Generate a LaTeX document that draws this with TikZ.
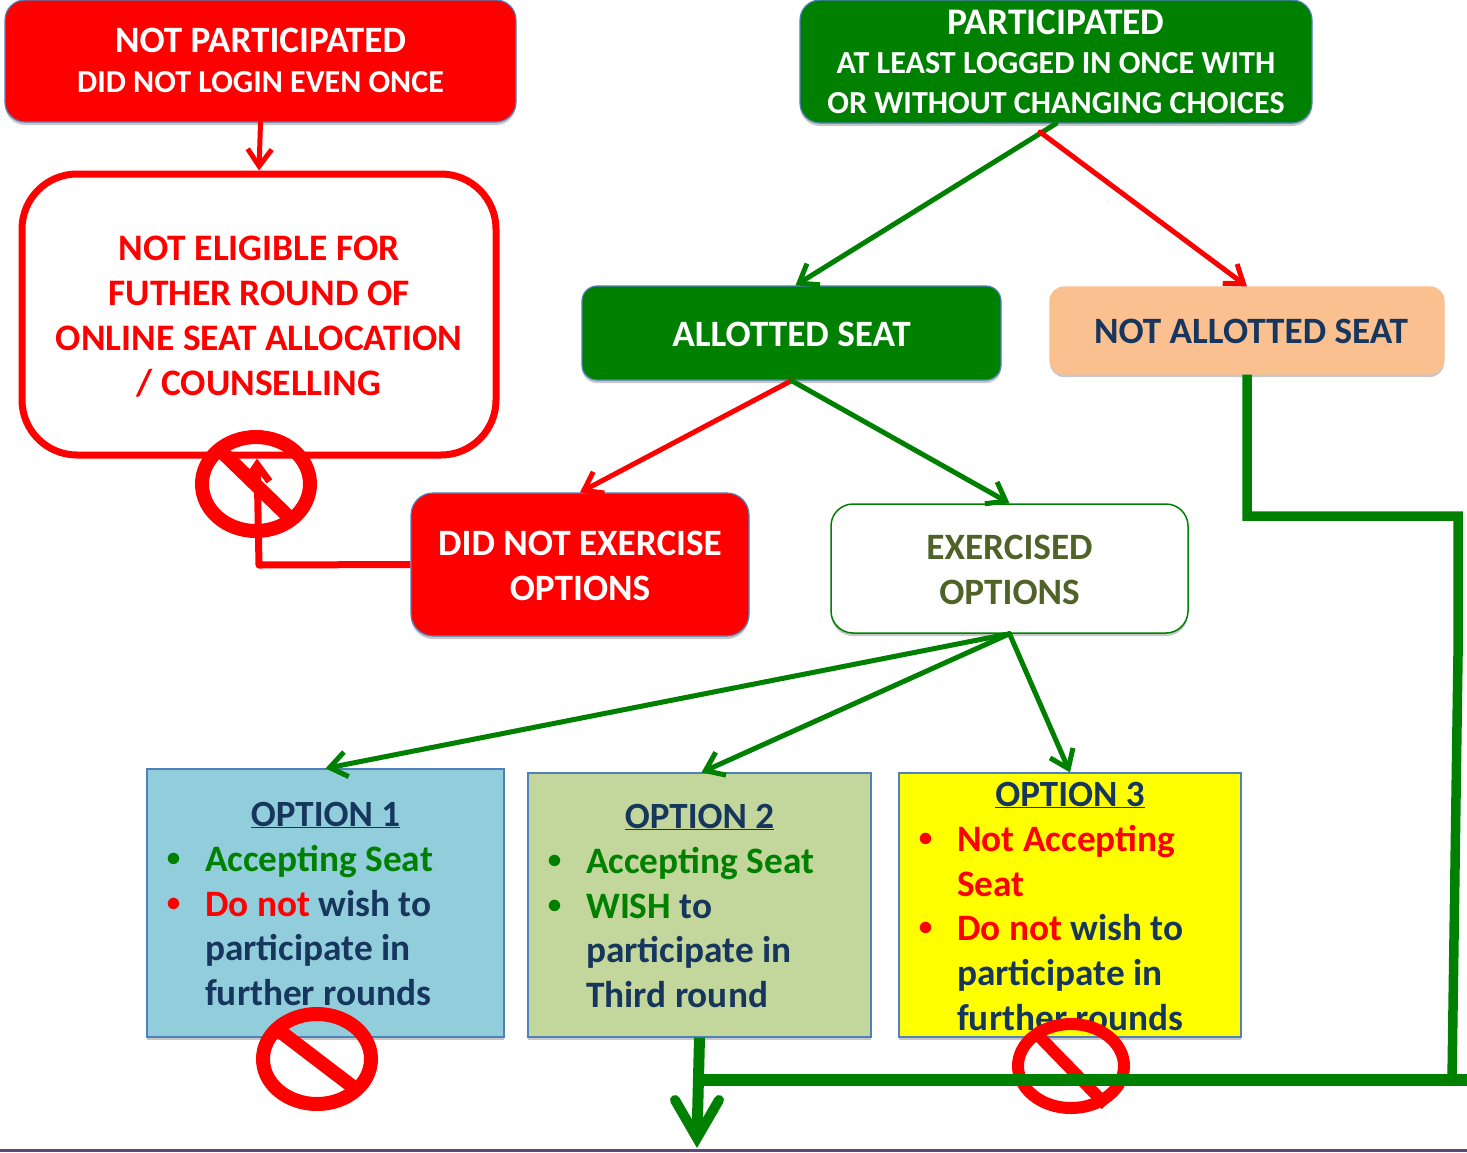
\documentclass[tikz,border=0pt]{standalone}
\usepackage{fontspec}
\setmainfont{Carlito}
\usetikzlibrary{arrows.meta,shadows,calc,shapes.geometric}
\definecolor{gr}{RGB}{0,128,0}
\definecolor{pureyellow}{RGB}{255,255,0}
\definecolor{navy}{RGB}{23,54,93}
\definecolor{edgeblue}{RGB}{79,129,189}
\definecolor{peach}{RGB}{250,192,144}
\definecolor{olive}{RGB}{79,98,40}
\definecolor{cyanbox}{RGB}{146,205,220}
\definecolor{greenbox}{RGB}{195,214,155}
\definecolor{barline}{RGB}{95,73,122}
\tikzset{
  softshadow/.style={general shadow={shadow xshift=0pt,shadow yshift=-3pt,fill=black,opacity=.22}},
  flowbox/.style={rectangle,rounded corners=#1,draw=edgeblue,line width=1.2pt,inner sep=0pt,softshadow,align=center,font=\bfseries\fontsize{37.2}{45}\selectfont},
  flowbox/.default=18pt,
  optbox/.style={rectangle,draw=edgeblue,line width=1.2pt,inner sep=0pt,softshadow},
  opttitle/.style={inner sep=0pt,text=navy,font=\bfseries\fontsize{37}{40}\selectfont},
  optbody/.style={inner sep=0pt,anchor=north west,align=left,text=navy,font=\bfseries\fontsize{37.3}{44.7}\selectfont},
  redtip/.style={-{Straight Barb[length=17pt,width=24pt]},red,line width=5pt,line cap=round},
  greentip/.style={-{Straight Barb[length=17pt,width=25pt]},gr,line width=5pt,line cap=round},
  forbid/.style={draw=red,line width=14pt,fill=none,ellipse,inner sep=0pt},
  forbidbar/.style={draw=red,line width=14pt,line cap=butt},
}
\newcommand{\bulletin}[1]{\llap{\textcolor{#1}{\raisebox{5pt}{\fontsize{27}{27}\selectfont •}}\hspace{25pt}}}
\newcommand{\sz}[2]{\fontsize{#1}{#2}\selectfont}
\newcommand{\nudge}[1]{\rule{0pt}{#1}}
\begin{document}
\begin{tikzpicture}[x=1pt,y=-1pt]
\useasboundingbox (0,0) rectangle (1467,1152);
\clip (0,0) rectangle (1467,1152);
\fill[white] (0,0) rectangle (1467,1152);
% bottom bar
\coordinate (barL) at (0,1150.5);
\coordinate (barR) at (1467,1150.5);
\draw[barline,line width=3.5pt] (barL) -- (barR);

% top boxes
\node[flowbox=20pt,fill=red,text=white,minimum width=511pt,minimum height=122pt] (np) at (260.5,61)
  {NOT PARTICIPATED\\[-5pt]\sz{32}{41}DID NOT LOGIN EVEN ONCE\rule[-2pt]{0pt}{0pt}};
\node[flowbox=20pt,fill=gr,text=white,minimum width=512pt,minimum height=123pt,font=\bfseries\fontsize{37.5}{39.5}\selectfont] (pa) at (1056,61.5)
  {PARTICIPATED\\\sz{32.1}{39.5}AT LEAST LOGGED IN ONCE WITH\\\sz{32.1}{39.5}OR WITHOUT CHANGING CHOICES};
\node[rectangle,rounded corners=55pt,draw=red,line width=7pt,fill=white,inner sep=0pt,align=center,text=red,softshadow,
  minimum width=474pt,minimum height=281pt,font=\bfseries\fontsize{37.4}{44.8}\selectfont] (ne) at (259,314.5)
  {\nudge{29pt}NOT ELIGIBLE FOR\\FUTHER ROUND OF\\ONLINE SEAT ALLOCATION\\/ COUNSELLING};
% middle boxes
\node[flowbox=15pt,fill=gr,text=white,minimum width=419pt,minimum height=94pt] (al) at (791.5,333) {\nudge{27pt}ALLOTTED SEAT};
\node[flowbox=14pt,draw=peach,fill=peach,text=navy,minimum width=394pt,minimum height=87pt] (na) at (1247,330.5) {\nudge{27pt}\hspace*{8pt}NOT ALLOTTED SEAT};
\node[flowbox=22pt,fill=red,text=white,minimum width=338pt,minimum height=143pt] (dn) at (580,564.5) {\nudge{27pt}DID NOT EXERCISE\\OPTIONS};
\node[flowbox=22pt,draw=gr,fill=white,text=olive,minimum width=357pt,minimum height=129pt,line width=1.5pt] (ex) at (1009.5,568.5) {\nudge{28pt}EXERCISED\\OPTIONS};
% option boxes
\node[optbox,fill=cyanbox,minimum width=357pt,minimum height=268pt] (o1) at (325.5,903) {};
\node[optbox,fill=greenbox,minimum width=343pt,minimum height=264pt] (o2) at (699.5,905) {};
\node[optbox,fill=pureyellow,minimum width=342pt,minimum height=264pt] (o3) at (1070,905) {};
\node[opttitle] (t1) at (325.5,815) {\underline{OPTION 1}};
\node[opttitle] (t2) at (699.5,817) {\underline{OPTION 2}};
\node[opttitle] (t3) at (1070,795) {\underline{OPTION 3}};
\node[optbody] (b1) at (205,845) {\bulletin{gr}\textcolor{gr}{Accepting Seat}\\\bulletin{red}\textcolor{red}{Do not} wish to\\participate in\\further rounds};
\node[optbody] (b2) at (586,847) {\bulletin{gr}\textcolor{gr}{Accepting Seat}\\\bulletin{gr}\textcolor{gr}{WISH} to\\participate in\\Third round};
\node[optbody] (b3) at (957,825) {\bulletin{red}\textcolor{red}{Not Accepting}\\\textcolor{red}{Seat}\\\bulletin{red}\textcolor{red}{Do not} wish to\\participate in\\further rounds};

% connectors
\draw[redtip] (np.south) -- (ne.north);
\draw[greentip] (pa.south) -- ($(al.north)+(4,0)$);
\coordinate (rs) at (1040,132);
\draw[redtip] (rs) -- (na.north);
\draw[redtip] (al.south) -- (dn.north);
\draw[greentip] (al.south) -- (ex.north);
\draw[greentip] (ex.south) -- (o1.north);
\draw[greentip] (ex.south) -- ($(o2.north)+(2,0)$);
\draw[greentip] (ex.south) -- (o3.north);

% prohibition sign on the returning connector
\node[forbid,minimum width=108pt,minimum height=94pt] (s1) at (256,484) {};
\draw[forbidbar] (222,452) -- (292,520);
\draw[-{Straight Barb[length=17pt,width=24pt]},red,line width=7pt,line join=round] (dn.west) -- (259,565) -- ($(ne.south)+(-2,0)$);

% prohibition signs
\node[forbid,minimum width=108pt,minimum height=90pt] (s2) at (317,1059) {};
\draw[forbidbar] (277,1029) -- (357,1090);
\node[forbid,line width=12pt,minimum width=106pt,minimum height=84pt] (s3) at (1071,1066) {};
\draw[forbidbar,line width=12pt] (1033,1030) -- (1106,1105);

% thick green route
\coordinate (r1) at (1247,516);
\coordinate (r2) at (1458,516);
\coordinate (r3) at (1458,655);
\coordinate (r4) at (1452,1080);
\coordinate (r5) at (1467,1080);
\coordinate (r6) at (695,1080);
\coordinate (tip) at (697,1138);
\draw[gr,line width=9.5pt,line join=miter] (na.south) -- (r1) -- (r2) -- (r3) -- (r4);
\draw[gr,line width=12pt] (r5) -- (r6);
\draw[gr,line width=11pt] (o2.south) -- (tip);
\draw[gr,line width=10pt,line cap=round,line join=miter] (675,1100) -- (tip) -- (719,1100);
\end{tikzpicture}
\end{document}
